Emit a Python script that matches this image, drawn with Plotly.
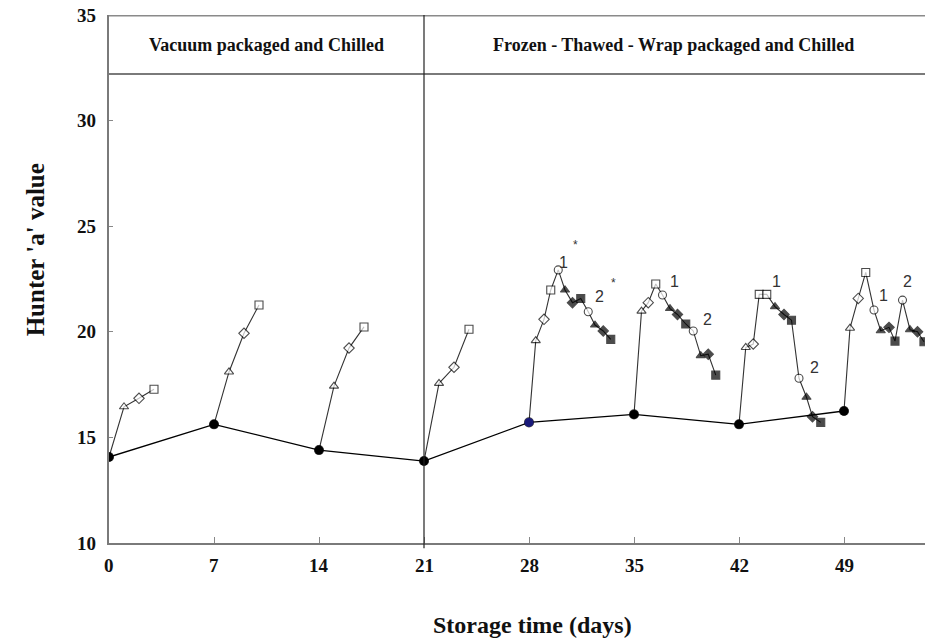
import plotly.graph_objects as go

# Baseline (chilled) measurements, one per week
base_days = [0, 7, 14, 21, 28, 35, 42, 49]
base_a = [14.07, 15.62, 14.40, 13.88, 15.71, 16.09, 15.62, 16.25]

# Display periods after each baseline measurement (days, Hunter a)
b0_days = [1, 2, 3]
b0_a = [16.45, 16.85, 17.28]
b7_days = [8, 9, 10]
b7_a = [18.1, 19.93, 21.27]
b14_days = [15, 16, 17]
b14_a = [17.43, 19.23, 20.23]
b21_days = [22, 23, 24]
b21_a = [17.56, 18.32, 20.12]

# Frozen-thawed cycles: bloom (open) then two re-wrap cycles (filled)
b28_days = [28.45, 29.0, 29.45, 29.95, 30.4, 30.9, 31.45, 31.95, 32.4, 32.95, 33.45]
b28_a = [19.58, 20.59, 21.98, 22.93, 21.98, 21.38, 21.58, 20.95, 20.32, 20.04, 19.64]
b35_days = [35.5, 35.95, 36.45, 36.9, 37.4, 37.9, 38.45, 38.95, 39.45, 39.95, 40.45]
b35_a = [20.98, 21.38, 22.26, 21.74, 21.10, 20.82, 20.37, 20.04, 18.87, 18.94, 17.95]
b42_days = [42.45, 42.95, 43.35, 43.85, 44.4, 45.0, 45.5, 46.0, 46.5, 46.9, 47.45]
b42_a = [19.26, 19.42, 21.77, 21.77, 21.19, 20.82, 20.55, 17.80, 16.90, 15.98, 15.71]
b49_days = [49.4, 49.95, 50.45, 51.0, 51.45, 52.0, 52.4, 52.9, 53.4, 53.9, 54.33]
b49_a = [20.17, 21.58, 22.81, 21.03, 20.05, 20.21, 19.56, 21.50, 20.10, 20.00, 19.53]

period_labels = ["Vacuum packaged and Chilled", "Frozen - Thawed - Wrap packaged and Chilled"]
y_ticks = [10, 15, 20, 25, 30, 35]
x_ticks = [0, 7, 14, 21, 28, 35, 42, 49]

SERIF = "Liberation Serif"
SANS = "Liberation Sans"

RISE = ["triangle-up", "diamond", "square"]
RISE_OPEN = [True, True, True]
CYCLE = ["circle", "triangle-up", "diamond", "square"]
CYCLE_OPEN = [True, False, False, False]


def branch(i, days, vals, symbols, opens):
    xs = [base_days[i]] + days
    ys = [base_a[i]] + vals
    sym = ["circle"] + symbols
    fill = ["black"] + ["white" if o else "black" for o in opens]
    return go.Scatter(
        x=xs, y=ys, mode="lines+markers",
        line=dict(color="#333333", width=1.1),
        marker=dict(symbol=sym, size=[9] + [8] * len(days), color=fill,
                    line=dict(color="black", width=1.1)),
        showlegend=False, hoverinfo="x+y",
    )


fig = go.Figure()

short = [(0, b0_days, b0_a), (1, b7_days, b7_a), (2, b14_days, b14_a), (3, b21_days, b21_a)]
for i, d, v in short:
    fig.add_trace(branch(i, d, v, RISE, RISE_OPEN))

long_sym = RISE + CYCLE + CYCLE
long_open = RISE_OPEN + CYCLE_OPEN + CYCLE_OPEN
sym42 = RISE + ["square"] + CYCLE[1:] + CYCLE
for i, d, v in [(4, b28_days, b28_a), (5, b35_days, b35_a), (7, b49_days, b49_a)]:
    fig.add_trace(branch(i, d, v, long_sym, long_open))
fig.add_trace(branch(6, b42_days, b42_a, sym42, long_open))

# Weekly baseline line on top
base_colors = ["black"] * len(base_days)
base_colors[4] = "#1a1a7a"
fig.add_trace(go.Scatter(
    x=base_days, y=base_a, mode="lines+markers",
    line=dict(color="black", width=1.3),
    marker=dict(symbol="circle", size=9, color=base_colors, line=dict(width=0)),
    showlegend=False, hoverinfo="x+y",
))

# Header band and period divider
fig.add_shape(type="line", xref="paper", yref="y", x0=0, x1=1, y0=35, y1=35,
              line=dict(color="#8a8a8a", width=3))
fig.add_shape(type="line", xref="paper", yref="y", x0=0, x1=1, y0=32.21, y1=32.21,
              line=dict(color="#7a7a7a", width=2))
fig.add_shape(type="line", xref="x", yref="paper", x0=21, x1=21, y0=-0.01, y1=1,
              line=dict(color="#222222", width=1.2))

fig.add_annotation(x=10.5, y=33.6, xref="x", yref="y", text="<b>%s</b>" % period_labels[0],
                   showarrow=False, font=dict(family=SERIF, size=18, color="#111"))
fig.add_annotation(x=37.6, y=33.6, xref="x", yref="y", text="<b>%s</b>" % period_labels[1],
                   showarrow=False, font=dict(family=SERIF, size=18, color="#111"))

# Tick labels in bold serif
for v in y_ticks:
    fig.add_annotation(x=-0.014, y=v, xref="paper", yref="y", xanchor="right", yanchor="middle",
                       text="<b>%d</b>" % v, showarrow=False,
                       font=dict(family=SERIF, size=19, color="#111"))
for v in x_ticks:
    fig.add_annotation(x=v, y=-0.042, xref="x", yref="paper", xanchor="center", yanchor="middle",
                       text="<b>%d</b>" % v, showarrow=False,
                       font=dict(family=SERIF, size=19, color="#111"))

# Cycle labels
cycle_marks = [
    (30.27, 23.30, "1"), (32.73, 21.65, "2"),
    (37.73, 22.36, "1"), (39.87, 20.56, "2"),
    (44.53, 22.36, "1"), (47.0, 18.33, "2"),
    (51.6, 21.70, "1"), (53.2, 22.36, "2"),
]
for x, y, t in cycle_marks:
    fig.add_annotation(x=x, y=y, xref="x", yref="y", text=t, showarrow=False,
                       font=dict(family=SANS, size=16, color="#333"))
for x, y in [(31.13, 24.11), (33.6, 22.31)]:
    fig.add_annotation(x=x, y=y, xref="x", yref="y", text="*", showarrow=False,
                       font=dict(family=SANS, size=12, color="#333"))

# Axis titles
fig.add_annotation(x=0.519, y=-0.155, xref="paper", yref="paper", yanchor="middle",
                   text="<b>Storage time (days)</b>", showarrow=False,
                   font=dict(family=SERIF, size=24, color="#111"))
fig.add_annotation(x=-0.108, y=0.555, xref="paper", yref="paper", textangle=-90,
                   text="<b>Hunter 'a' value</b>", showarrow=False,
                   font=dict(family=SERIF, size=25, color="#111"))

fig.update_layout(
    width=925, height=640,
    margin=dict(l=109, r=0, t=15, b=97),
    paper_bgcolor="white", plot_bgcolor="white",
    xaxis=dict(range=[0, 54.4], tickmode="array", tickvals=x_ticks, showticklabels=False,
               ticks="inside", ticklen=6,
               tickcolor="#888", showline=True, linecolor="#7a7a7a", linewidth=2,
               showgrid=False, zeroline=False),
    yaxis=dict(range=[10, 35], tickmode="array", tickvals=y_ticks, showticklabels=False,
               ticks="inside", ticklen=4,
               tickcolor="#888", showline=True, linecolor="#7a7a7a", linewidth=2,
               showgrid=False, zeroline=False),
)

fig.write_html("out.html")
